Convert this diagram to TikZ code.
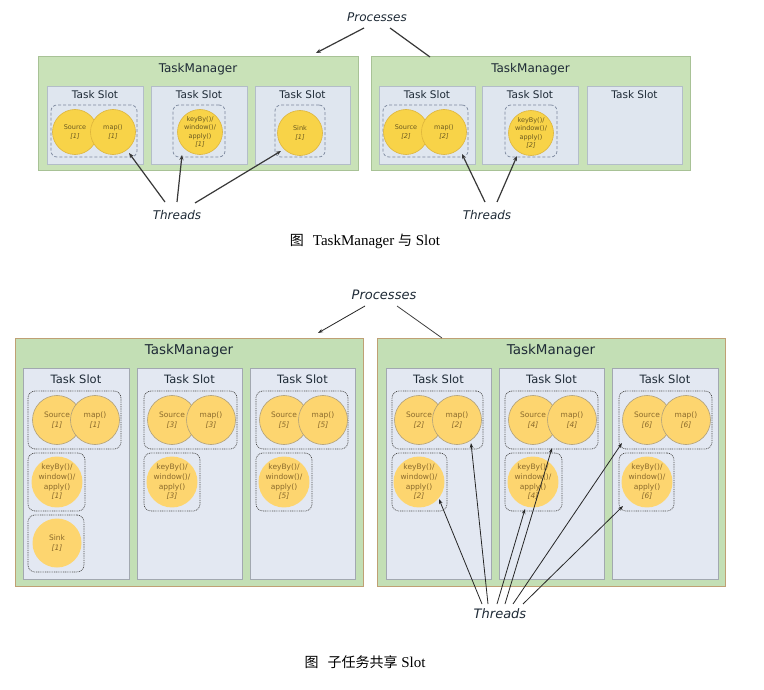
\documentclass[tikz,border=0pt]{standalone}
\usepackage{fontspec}
\setmainfont{DejaVu Sans}
\newfontfamily\capfont{Liberation Serif}
\newfontfamily\cjk{Noto Sans CJK SC}
\usetikzlibrary{arrows.meta}
\definecolor{tmfA}{HTML}{C9E2B8}
\definecolor{tmbA}{HTML}{A8C296}
\definecolor{slfA}{HTML}{DFE6EF}
\definecolor{slbA}{HTML}{B3BDC8}
\definecolor{grbA}{HTML}{7C889E}
\definecolor{cfA}{HTML}{F8D348}
\definecolor{cbA}{HTML}{DDB43A}
\definecolor{ctA}{HTML}{6B5A20}
\definecolor{tmfB}{HTML}{C3DFB5}
\definecolor{tmbB}{HTML}{BFA074}
\definecolor{slfB}{HTML}{E3E8F2}
\definecolor{slbB}{HTML}{A2A8B0}
\definecolor{grbB}{HTML}{4A4A4A}
\definecolor{cfB}{HTML}{FDD56F}
\definecolor{cbB}{HTML}{B0A07A}
\definecolor{ctB}{HTML}{8A6A2C}
\definecolor{ttl}{HTML}{1E2A36}
\newcommand\rbox[6]{\node[#1, minimum width={#5pt-#3pt}, minimum height={#6pt-#4pt}, anchor=north west] (#2) at (#3,#4) {};}
\tikzset{
  boxbase/.style={inner sep=0pt, outer sep=0pt},
  tmA/.style={boxbase, draw=tmbA, fill=tmfA, line width=1pt},
  slotA/.style={boxbase, draw=slbA, fill=slfA, line width=0.9pt},
  grpA/.style={boxbase, draw=grbA, densely dashed, line width=0.7pt, rounded corners=6pt},
  circA/.style={circle, fill=cfA, draw=cbA, line width=0.6pt, minimum size=45pt, inner sep=0pt, align=center, font=\fontsize{6.5}{8.5}\selectfont, text=ctA},
  tmB/.style={boxbase, draw=tmbB, fill=tmfB, line width=1pt},
  slotB/.style={boxbase, draw=slbB, fill=slfB, line width=0.9pt},
  grpB/.style={boxbase, draw=grbB, dash pattern=on 0.9pt off 0.9pt, line width=0.7pt, rounded corners=7pt},
  circB/.style={circle, fill=cfB, draw=cbB, line width=0.6pt, minimum size=49pt, inner sep=0pt, align=center, font=\fontsize{7.5}{9.6}\selectfont, text=ctB},
  circBn/.style={circB, draw=none},
  tmtA/.style={font=\fontsize{12}{14}\selectfont, text=ttl, inner sep=1pt},
  sltA/.style={font=\fontsize{10.5}{12}\selectfont, text=ttl, inner sep=1pt},
  tmtB/.style={font=\fontsize{13.5}{15}\selectfont, text=ttl, inner sep=1pt},
  sltB/.style={font=\fontsize{11.5}{13}\selectfont, text=ttl, inner sep=1pt},
  lblA/.style={font=\fontsize{12}{13}\selectfont\itshape, text=ttl, inner sep=1pt},
  lblB/.style={font=\fontsize{13}{14}\selectfont\itshape, text=ttl, inner sep=1pt},
  capt/.style={font=\fontsize{15}{17}\capfont, inner sep=1pt},
  arrA/.style={draw=black!78, line width=1.2pt, -{Stealth[length=5pt,width=4pt]}},
  lnA/.style={draw=black!78, line width=1.2pt},
  arrB/.style={draw=black!85, line width=0.8pt, -{Stealth[length=5pt,width=3.5pt]}},
  lnB/.style={draw=black!75, line width=0.8pt},
}
\begin{document}
\begin{tikzpicture}[x=1pt,y=-1pt]
\useasboundingbox (0,0) rectangle (764,690);
\fill[white] (0,0) rectangle (764,690);
% ================= TOP DIAGRAM =================
\node[lblA] (pA) at (377,17) {Processes};
\rbox{tmA}{tm1}{38}{57}{358}{171}
\rbox{tmA}{tm2}{371}{57}{690}{171}
\node[tmtA] (tm1t) at (198,69) {TaskManager};
\node[tmtA] (tm2t) at (530.5,69) {TaskManager};
\rbox{slotA}{s11}{47}{86}{143}{164}
\rbox{slotA}{s12}{151}{86}{247}{164}
\rbox{slotA}{s13}{255}{86}{350}{164}
\rbox{slotA}{s21}{379}{86}{475}{164}
\rbox{slotA}{s22}{482}{86}{578}{164}
\rbox{slotA}{s23}{587}{86}{682}{164}
\node[sltA] (s11t) at (95,95) {Task Slot};
\node[sltA] (s12t) at (199,95) {Task Slot};
\node[sltA] (s13t) at (302.5,95) {Task Slot};
\node[sltA] (s21t) at (427,95) {Task Slot};
\node[sltA] (s22t) at (530,95) {Task Slot};
\node[sltA] (s23t) at (634.5,95) {Task Slot};
\rbox{grpA}{g11}{51}{105}{137}{157}
\rbox{grpA}{g12}{173}{105}{225}{157}
\rbox{grpA}{g13}{275}{105}{325}{157}
\rbox{grpA}{g21}{383}{105}{468}{157}
\rbox{grpA}{g22}{505}{105}{557}{157}
\node[circA] (c11s) at (75,132) {Source\\{\itshape[1]}};
\node[circA] (c11m) at (113,132) {map()\\{\itshape[1]}};
\node[circA] (c12) at (200,132) {keyBy()/\\window()/\\apply()\\{\itshape[1]}};
\node[circA] (c13) at (300,133) {Sink\\{\itshape[1]}};
\node[circA] (c21s) at (406,132) {Source\\{\itshape[2]}};
\node[circA] (c21m) at (444,132) {map()\\{\itshape[2]}};
\node[circA] (c22) at (531,133) {keyBy()/\\window()/\\apply()\\{\itshape[2]}};
\node[lblA] (thA) at (177,215) {Threads};
\node[lblA] (thB) at (487,215) {Threads};
\draw[arrA] ([shift={(-13,11)}]pA.center) -- ([shift={(-42,-4)}]tm1.north east);
\draw[lnA] ([shift={(13,11)}]pA.center) -- ([shift={(59,0)}]tm2.north west);
\draw[arrA] ([shift={(-12,-13)}]thA.center) -- ([shift={(-8,-4)}]g11.south east);
\draw[arrA] ([shift={(0,-13)}]thA.center) -- ([shift={(9,-2)}]g12.south west);
\draw[arrA] ([shift={(18,-12)}]thA.center) -- ([shift={(6,-6)}]g13.south west);
\draw[arrA] ([shift={(-2,-13)}]thB.center) -- ([shift={(-6,-3)}]g21.south east);
\draw[arrA] ([shift={(10,-13)}]thB.center) -- ([shift={(12,-1)}]g22.south west);
\node[capt] (cap1) at (365,241) {{\cjk\fontsize{14}{16}\selectfont 图}\hspace{9pt}TaskManager {\cjk\fontsize{14}{16}\selectfont 与} Slot};
% ================= BOTTOM DIAGRAM =================
\node[lblB] (pB) at (384,295) {Processes};
\rbox{tmB}{tm3}{15}{338}{363}{586}
\rbox{tmB}{tm4}{377}{338}{725}{586}
\node[tmtB] (tm3t) at (189,351) {TaskManager};
\node[tmtB] (tm4t) at (551,351) {TaskManager};
\rbox{slotB}{s31}{23}{368}{129}{579}
\rbox{slotB}{s32}{137}{368}{242}{579}
\rbox{slotB}{s33}{250}{368}{355}{579}
\rbox{slotB}{s41}{386}{368}{491}{579}
\rbox{slotB}{s42}{499}{368}{604}{579}
\rbox{slotB}{s43}{612}{368}{718}{579}
\node[sltB] (s31t) at (76,379) {Task Slot};
\node[sltB] (s32t) at (189.5,379) {Task Slot};
\node[sltB] (s33t) at (302.5,379) {Task Slot};
\node[sltB] (s41t) at (438.5,379) {Task Slot};
\node[sltB] (s42t) at (551.5,379) {Task Slot};
\node[sltB] (s43t) at (665,379) {Task Slot};
\rbox{grpB}{g31a}{28}{391}{121}{449}
\rbox{grpB}{g31b}{28}{453}{85}{511}
\rbox{grpB}{g31c}{28}{515}{84}{572}
\rbox{grpB}{g32a}{144}{391}{237}{449}
\rbox{grpB}{g32b}{144}{453}{200}{511}
\rbox{grpB}{g33a}{256}{391}{348}{449}
\rbox{grpB}{g33b}{256}{453}{312}{511}
\rbox{grpB}{g41a}{392}{391}{483}{449}
\rbox{grpB}{g41b}{392}{453}{447}{511}
\rbox{grpB}{g42a}{505}{391}{598}{449}
\rbox{grpB}{g42b}{505}{453}{562}{511}
\rbox{grpB}{g43a}{619}{391}{712}{449}
\rbox{grpB}{g43b}{619}{453}{674}{511}
\node[circB] (c31s) at (57,420) {Source\\{\itshape[1]}};
\node[circB] (c31m) at (95,420) {map()\\{\itshape[1]}};
\node[circBn] (c31k) at (57,482) {keyBy()/\\window()/\\apply()\\{\itshape[1]}};
\node[circBn] (c31x) at (57,543) {Sink\\{\itshape[1]}};
\node[circB] (c32s) at (172,420) {Source\\{\itshape[3]}};
\node[circB] (c32m) at (211,420) {map()\\{\itshape[3]}};
\node[circBn] (c32k) at (172,482) {keyBy()/\\window()/\\apply()\\{\itshape[3]}};
\node[circB] (c33s) at (284,420) {Source\\{\itshape[5]}};
\node[circB] (c33m) at (323,420) {map()\\{\itshape[5]}};
\node[circBn] (c33k) at (284,482) {keyBy()/\\window()/\\apply()\\{\itshape[5]}};
\node[circB] (c41s) at (419,420) {Source\\{\itshape[2]}};
\node[circB] (c41m) at (457,420) {map()\\{\itshape[2]}};
\node[circBn] (c41k) at (419,482) {keyBy()/\\window()/\\apply()\\{\itshape[2]}};
\node[circB] (c42s) at (533,420) {Source\\{\itshape[4]}};
\node[circB] (c42m) at (572,420) {map()\\{\itshape[4]}};
\node[circBn] (c42k) at (533,482) {keyBy()/\\window()/\\apply()\\{\itshape[4]}};
\node[circB] (c43s) at (647,420) {Source\\{\itshape[6]}};
\node[circB] (c43m) at (686,420) {map()\\{\itshape[6]}};
\node[circBn] (c43k) at (647,482) {keyBy()/\\window()/\\apply()\\{\itshape[6]}};
\node[lblB] (thC) at (500,614) {Threads};
\draw[arrB] ([shift={(-19,11)}]pB.center) -- ([shift={(-45,-5)}]tm3.north east);
\draw[lnB] ([shift={(13,11)}]pB.center) -- ([shift={(65,0)}]tm4.north west);
\draw[arrB] ([shift={(-18,-10)}]thC.center) -- ([shift={(-8,-12)}]g41b.south east);
\draw[arrB] ([shift={(-12,-10)}]thC.center) -- ([shift={(-12,-6)}]g41a.south east);
\draw[arrB] ([shift={(-3,-10)}]thC.center) -- ([shift={(20,-2)}]g42b.south west);
\draw[arrB] ([shift={(5,-10)}]thC.center) -- ([shift={(0.5,-1)}]g42a.south);
\draw[arrB] ([shift={(13,-10)}]thC.center) -- ([shift={(3,-6)}]g43a.south west);
\draw[arrB] ([shift={(23,-10)}]thC.center) -- ([shift={(4,-5)}]g43b.south west);
\node[capt] (cap2) at (365,662) {{\cjk\fontsize{14}{16}\selectfont 图\hspace{9pt}子任务共享} Slot};
\end{tikzpicture}
\end{document}
